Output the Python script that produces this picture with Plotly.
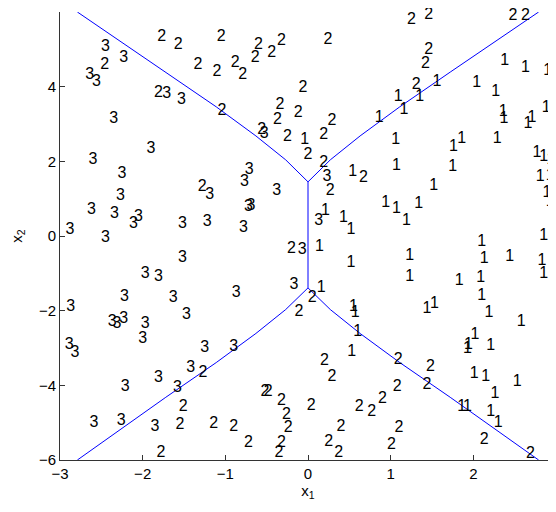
import plotly.graph_objects as go

# class labels drawn as text at each sample point
x1 = [-0.04, 0.86, 1.35, 1.56, 1.09, 1.16, 2.38, 2.63, 2.90, 2.04, 2.27, 2.88, 2.36, 2.37,
      2.71, 2.66, 1.06, 1.76, 1.86, 2.29, 2.77, 2.85, 2.94, 0.54, 1.07, 1.75, 2.81, 2.93,
      1.52, 2.89, 2.93, 0.94, 1.07, 1.34, 1.19, 0.21, 0.43, 0.52, 0.14, 0.52, 0.16, 2.10,
      2.85, 1.23, 2.13, 2.44, 2.83, 2.85, 1.23, 1.83, 2.09, 2.10, 2.95, 1.44, 1.53, 2.19,
      2.58, 2.02, 1.93, 1.94, 2.21, 2.01, 2.15, 2.53, 2.26, 1.86, 1.93, 2.21, 2.30, 0.55,
      0.57, 0.60, 0.53]
y1 = [2.57, 3.15, 3.73, 4.13, 3.73, 3.38, 4.69, 4.51, 4.42, 4.09, 3.85, 3.42, 3.33, 3.13,
      3.15, 2.99, 2.57, 2.39, 2.59, 2.59, 2.22, 2.12, 2.04, 1.72, 1.88, 1.86, 1.59, 1.61,
      1.34, 1.14, 0.92, 0.88, 0.72, 0.86, 0.41, 0.68, 0.47, 0.16, -0.29, -0.73, -1.40, -0.15,
      0.00, -0.54, -0.62, -0.55, -0.66, -1.03, -1.09, -1.20, -1.12, -1.60, -1.49, -1.96, -1.83, -2.05,
      -2.30, -2.65, -3.04, -2.92, -2.95, -3.70, -3.79, -3.90, -4.24, -4.57, -4.57, -4.71, -5.02, -1.89,
      -2.07, -2.56, -3.10]

x2 = [-1.77, -1.57, -1.05, -0.60, -0.32, -0.44, -0.64, 0.24, 1.25, 1.46, 2.48, 2.63, -2.46, -1.33,
      -0.88, -1.10, -0.79, 1.46, 1.42, 1.31, -0.06, -1.81, -1.04, -0.34, -0.37, -0.12, -0.56, -0.25,
      0.19, 0.29, 0.00, 0.19, 0.27, 0.67, -1.28, -0.20, 0.05, -0.11, -1.27, -1.51, -1.55, -1.14,
      -1.78, 0.20, 0.29, -0.52, -0.48, -0.32, -0.26, -0.24, 0.04, 0.62, 0.77, 0.90, -0.90, -0.72,
      -0.32, -0.35, 0.40, 0.25, 0.37, 1.09, 1.48, 1.08, 1.44, 1.10, 1.01, 2.13, 2.69]
y2 = [5.34, 5.12, 5.34, 5.12, 5.22, 4.89, 4.76, 5.25, 5.79, 5.92, 5.89, 5.89, 4.58, 4.58,
      4.63, 4.40, 4.31, 4.98, 4.60, 4.04, 3.96, 3.82, 3.36, 3.51, 3.11, 3.29, 2.84, 2.66,
      2.71, 3.08, 2.17, 1.95, 1.21, 1.55, 1.30, -0.36, -1.67, -2.03, -3.68, -4.57, -5.06, -5.04,
      -5.82, -3.34, -3.79, -4.17, -4.17, -4.42, -4.80, -5.15, -4.55, -4.57, -4.71, -4.37, -5.12, -5.55,
      -5.55, -5.82, -5.11, -5.51, -5.82, -3.32, -3.50, -4.04, -3.99, -5.14, -5.60, -5.46, -5.84]

x3 = [-2.45, -2.23, -2.64, -2.56, -1.71, -1.53, -2.35, -1.90, -2.60, -2.25, -2.27, -1.19, -2.62, -2.34,
      -2.05, -2.11, -3.01, -2.88, -1.52, -1.22, -2.45, -1.52, -1.97, -1.81, -2.22, -1.63, -2.87, -2.37,
      -2.31, -2.23, -1.97, -2.00, -1.47, -2.89, -2.82, -1.25, -1.42, -1.81, -2.21, -1.58, -2.59, -2.26,
      -1.85, -0.90, -0.53, -0.71, -0.77, -0.38, -0.72, -0.69, -0.78, -0.07, -0.17, -0.87, 0.23, 0.13]
y3 = [5.07, 4.76, 4.31, 4.12, 3.80, 3.64, 3.13, 2.33, 2.04, 1.66, 1.07, 1.10, 0.70, 0.58,
      0.52, 0.32, 0.29, 0.16, 0.32, 0.38, -0.06, -0.58, -1.02, -1.09, -1.63, -1.67, -1.89, -2.30,
      -2.36, -2.23, -2.36, -2.77, -2.12, -2.92, -3.14, -3.01, -3.54, -3.80, -4.05, -4.08, -5.00, -4.95,
      -5.12, -2.98, 2.72, 1.77, 1.45, 1.21, 0.77, 0.80, 0.22, -0.38, -1.31, -1.53, 1.59, 0.40]

# decision boundary (right half of each arm, mirrored for the left)
arm_x = [0.0, 0.27, 0.63, 1.11, 1.72, 2.79]
arm_y_top = [1.45, 2.04, 2.68, 3.46, 4.39, 6.0]
arm_y_bot = [-1.39, -1.97, -2.61, -3.39, -4.32, -6.0]

fig = go.Figure()

left_x = [-v for v in arm_x[::-1]]
fig.add_trace(go.Scatter(x=left_x + arm_x[1:], y=arm_y_top[::-1] + arm_y_top[1:],
                         mode='lines', line=dict(color='#0000ff', width=1)))
fig.add_trace(go.Scatter(x=left_x + arm_x[1:], y=arm_y_bot[::-1] + arm_y_bot[1:],
                         mode='lines', line=dict(color='#0000ff', width=1)))
fig.add_trace(go.Scatter(x=[arm_x[0], arm_x[0]], y=[arm_y_top[0], arm_y_bot[0]],
                         mode='lines', line=dict(color='#0000ff', width=1)))

for xs, ys, lab in [(x1, y1, '1'), (x2, y2, '2'), (x3, y3, '3')]:
  fig.add_trace(go.Scatter(
    x=xs, y=ys, mode='text', text=[lab] * len(xs),
    textposition='middle center', cliponaxis=False,
    textfont=dict(family='Liberation Sans', size=16, color='black')))

axis_style = dict(showgrid=False, zeroline=False, showline=True, linecolor='#333333',
                  linewidth=1, ticks='inside', ticklen=5, tickcolor='#333333',
                  automargin=False, tickfont=dict(family='Liberation Sans', size=15, color='black'))

# the page body has an 8px margin, so the figure is sized to fill what is left
fig.update_layout(
  template='none',
  width=548, height=504,
  margin=dict(l=52, r=0, t=4, b=52),
  paper_bgcolor='white', plot_bgcolor='white',
  showlegend=False,
  xaxis=dict(range=[-3, 3], tickvals=[-3, -2, -1, 0, 1, 2, 3],
             title=dict(text='x<sub>1</sub>', standoff=4,
                        font=dict(family='Liberation Sans', size=15, color='black')),
             **axis_style),
  yaxis=dict(range=[-6, 6], tickvals=[-6, -4, -2, 0, 2, 4, 6],
             title=dict(text='x<sub>2</sub>', standoff=14,
                        font=dict(family='Liberation Sans', size=15, color='black')),
             **axis_style),
)

fig.write_html("out.html")
